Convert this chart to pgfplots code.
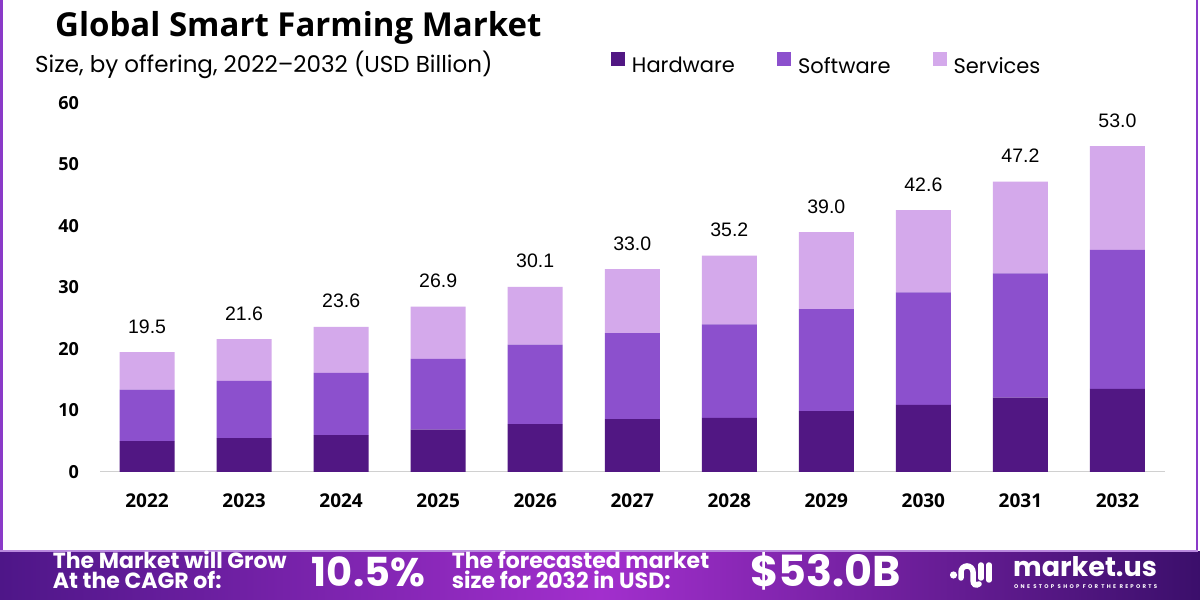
\documentclass[border=0pt]{standalone}
\usepackage{fontspec}
\usepackage{pgfplots}
\usepackage{pgfplotstable}
\pgfplotsset{compat=1.18}
\setmainfont{Open Sans}
\newfontfamily\poppins{Poppins}
\newfontfamily\poptrack[LetterSpace=42]{Poppins}
\newfontfamily\libsans{Liberation Sans}
\definecolor{hw}{HTML}{511783}
\definecolor{sw}{HTML}{8C50CD}
\definecolor{sv}{HTML}{D4A9EB}
\definecolor{bordc}{HTML}{8A3AC8}
\definecolor{ftL}{HTML}{4E1688}
\definecolor{ftM}{HTML}{A22FCD}
\definecolor{ftR}{HTML}{3B0F6B}
\definecolor{axc}{HTML}{D0D0D0}
\pgfplotstableread{
x hw sw sv total
0 5.0 8.4 6.1 19.5
1 5.5 9.3 6.8 21.6
2 6.0 10.1 7.5 23.6
3 6.9 11.5 8.5 26.9
4 7.8 12.9 9.4 30.1
5 8.6 14.0 10.4 33.0
6 8.8 15.2 11.2 35.2
7 9.9 16.6 12.5 39.0
8 10.9 18.3 13.4 42.6
9 12.1 20.2 14.9 47.2
10 13.5 22.6 16.9 53.0
}\data
\pgfplotsset{
  common/.style={
    at={(100pt,128pt)}, anchor=south west,
    scale only axis, width=1065pt, height=369pt,
    ymin=0, ymax=60, xmin=-0.485, xmax=10.49,
  }
}
\begin{document}
\begin{tikzpicture}[x=1pt,y=1pt]
\useasboundingbox (0,0) rectangle (1200,600);
\fill[white] (0,0) rectangle (1200,600);
\fill[bordc] (0,48) rectangle (2.5,600);
\fill[bordc] (1195.5,48) rectangle (1198,600);
\shade[left color=ftL, right color=ftR, middle color=ftM] (0,0) rectangle (1200,48);
\fill[bordc!60] (0,48) rectangle (1198,49.5);
% title
\node[anchor=base west, inner sep=0pt] at (55,563) {\fontsize{33}{38}\selectfont\bfseries Global Smart Farming Market};
\node[anchor=base west, inner sep=0pt] at (35,527) {\poppins\fontsize{23}{26}\selectfont Size, by offering, 2022–2032 (USD Billion)};
\begin{axis}[
  common,
  ybar stacked, bar width=55pt,
  ytick={0,10,...,60},
  xtick={0,...,10},
  xticklabels={2022,2023,2024,2025,2026,2027,2028,2029,2030,2031,2032},
  axis x line*=bottom, axis y line*=left,
  x axis line style={draw=axc, line width=1pt},
  y axis line style={draw=none},
  major tick length=0pt,
  /pgf/number format/assume math mode=true,
  yticklabel style={font=\fontsize{18}{18}\selectfont\bfseries, anchor=east, inner sep=0pt, xshift=-21pt},
  xticklabel style={font=\fontsize{19}{19}\selectfont\bfseries, anchor=base, inner sep=0pt, yshift=-36pt},
  legend columns=3,
  legend style={draw=none, fill=none, inner sep=0pt, outer sep=0pt,
    at={(0.4798,1.108)}, anchor=west,
    font=\poppins\fontsize{21}{21}\selectfont,
    nodes={inner sep=0pt},
    /tikz/every odd column/.append style={column sep=7pt},
    /tikz/every even column/.append style={column sep=42pt}},
  sq/.style={legend image code/.code={\fill[##1] (0pt,0pt) rectangle (14pt,14pt);}},
]
\addplot[fill=hw, draw=none, sq] table[x=x, y=hw] {\data};
\addplot[fill=sw, draw=none, sq] table[x=x, y=sw] {\data};
\addplot[fill=sv, draw=none, sq] table[x=x, y=sv] {\data};
\legend{Hardware, Software, Services}
\end{axis}
\begin{axis}[common, hide axis]
\addplot[draw=none, mark=none, point meta=explicit symbolic,
  nodes near coords,
  nodes near coords style={font=\libsans\fontsize{19.5}{19.5}\selectfont, text=black, anchor=base, inner sep=0pt, yshift=19pt}]
  table[x=x, y=total, meta=total] {\data};
\end{axis}
% footer texts
\begin{scope}[every node/.style={anchor=base west, inner sep=0pt, text=white}]
\node at (52.7,31.7) {\poppins\bfseries\fontsize{22}{22}\selectfont The Market will Grow};
\node at (52.7,11) {\poppins\bfseries\fontsize{22}{22}\selectfont At the CAGR of:};
\node at (311.7,13.3) {\poppins\bfseries\fontsize{40}{40}\selectfont 10.5\%};
\node at (451.7,31.7) {\poppins\bfseries\fontsize{22}{22}\selectfont The forecasted market};
\node at (451.7,11) {\poppins\bfseries\fontsize{22}{22}\selectfont size for 2032 in USD:};
\node at (750,13.3) {\poppins\bfseries\fontsize{43}{43}\selectfont \$53.0B};
\node at (1013,23.5) {\poppins\bfseries\fontsize{27}{27}\selectfont market.us};
\node at (1014,12) {\poptrack\bfseries\fontsize{5.4}{6}\selectfont ONE STOP SHOP FOR THE REPORTS};
\end{scope}
% logo icon
\fill[white] (953.5,25) circle (3.6);
\draw[white, line width=5.5pt, line cap=round] (961,22) -- (961,28) arc[start angle=180, end angle=0, radius=6] -- (973,20) .. controls (973,15) and (976,14) .. (979,16);
\draw[white, line width=5.5pt, line cap=round] (981,22) -- (981,35);
\draw[white, line width=5.5pt, line cap=round] (989,20) -- (989,35);
\end{tikzpicture}
\end{document}
